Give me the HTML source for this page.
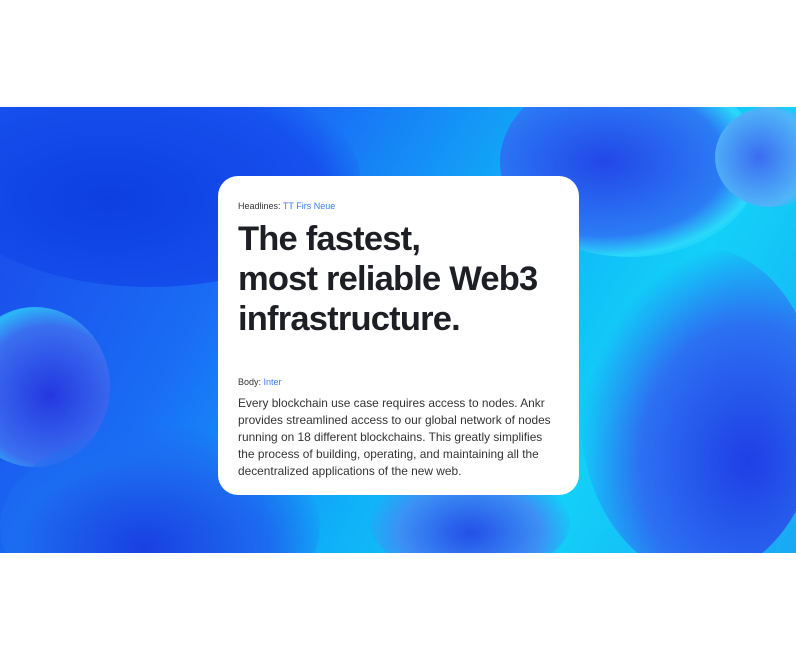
<!DOCTYPE html>
<html><head><style>
html,body{margin:0;padding:0;background:#fff;}
body{width:796px;height:661px;position:relative;overflow:hidden;font-family:"Liberation Sans",sans-serif;}
.band{position:absolute;left:0;top:107px;width:796px;height:446px;overflow:hidden;
background:linear-gradient(120deg,#1a45e8 0%,#1a6cf5 30%,#10b0f8 55%,#12d0f8 75%,#1aa8f5 100%);}
.b{position:absolute;border-radius:50%;}
.card{position:absolute;left:218px;top:176px;width:361px;height:319px;background:#fff;border-radius:20px;}
.lab{position:absolute;left:20px;font-size:9px;color:#333;}
.lab span{color:#3a7bf0;}
h1{position:absolute;left:20px;top:43px;margin:0;font-size:34.5px;line-height:40px;font-weight:bold;color:#1e1f24;letter-spacing:-0.8px;}
p{position:absolute;left:20px;top:219px;width:318px;margin:0;font-size:11.9px;line-height:17px;color:#333;}
</style></head><body>
<div class="band">
 <div class="b" style="left:-60px;top:-40px;width:420px;height:220px;background:radial-gradient(ellipse at 40% 60%,#0d3fe0,#1650ee 60%,rgba(22,80,238,0) 75%);"></div>
 <div class="b" style="left:-40px;top:200px;width:150px;height:160px;background:radial-gradient(circle at 60% 55%,#2438e0,#3a6ff0 55%,#2ab8f8 72%,rgba(40,180,248,0) 80%);"></div>
 <div class="b" style="left:0px;top:320px;width:320px;height:200px;background:radial-gradient(ellipse at 45% 60%,#1a40e2,#1c6cf0 50%,rgba(20,190,250,0) 75%);"></div>
 <div class="b" style="left:500px;top:-40px;width:260px;height:190px;background:radial-gradient(ellipse at 40% 50%,#2347e8,#2b7cf5 55%,#2ad8fa 70%,rgba(40,216,250,0) 78%);"></div>
 <div class="b" style="left:715px;top:0px;width:110px;height:100px;background:radial-gradient(circle at 40% 50%,#3a6df2,#50b5f8 60%,rgba(80,200,250,0) 75%);"></div>
 <div class="b" style="left:580px;top:140px;width:240px;height:330px;background:radial-gradient(ellipse at 70% 65%,#1f3fe5,#2c70f2 45%,rgba(30,190,250,0) 72%);"></div>
 <div class="b" style="left:370px;top:360px;width:200px;height:110px;background:radial-gradient(ellipse at 50% 60%,#2350e8,#3c90f5 50%,rgba(40,200,250,0) 75%);"></div>
</div>
<div class="card">
 <div class="lab" style="top:25px;">Headlines: <span>TT Firs Neue</span></div>
 <h1>The fastest,<br>most reliable Web3<br>infrastructure.</h1>
 <div class="lab" style="top:201px;">Body: <span>Inter</span></div>
 <p>Every blockchain use case requires access to nodes. Ankr provides streamlined access to our global network of nodes running on 18 different blockchains. This greatly simplifies the process of building, operating, and maintaining all the decentralized applications of the new web.</p>
</div>
</body></html>
